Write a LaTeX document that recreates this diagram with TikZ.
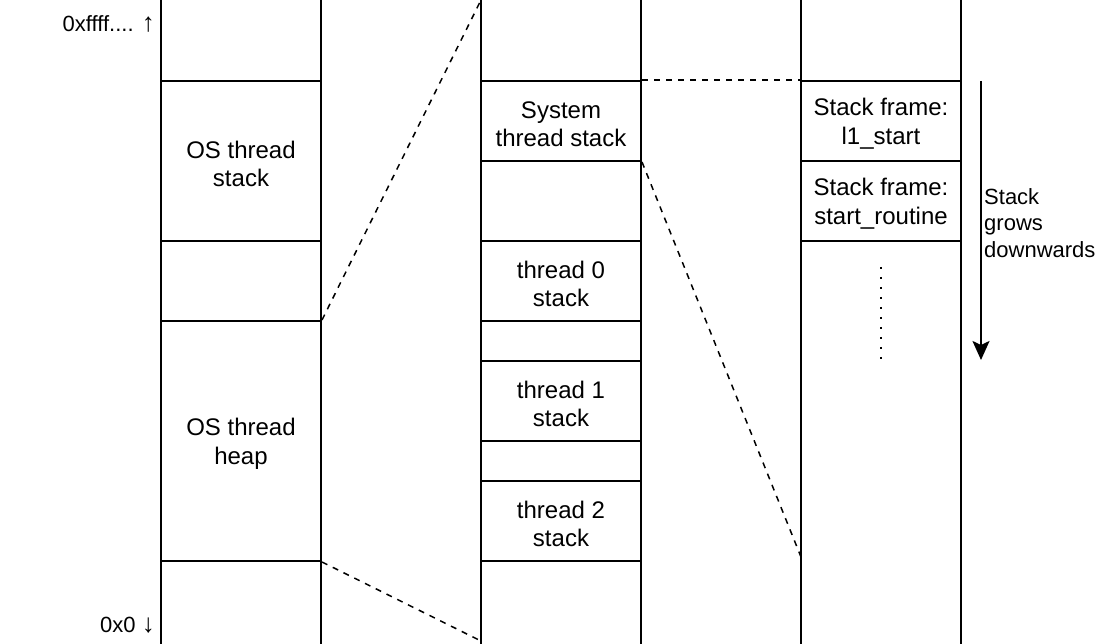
\documentclass[tikz,border=0pt]{standalone}
\usepackage{fontspec}
\setmainfont{Liberation Sans}
\usepackage{tikz}
\usetikzlibrary{arrows.meta}
\definecolor{bg}{HTML}{FFFFFF}
\definecolor{ink}{HTML}{000000}
\tikzset{
  wall/.style={draw=ink, line width=2pt},
  seg/.style={draw=ink, line width=2pt, inner sep=0pt, minimum width=160pt,
    align=center, text height=52pt, font=\fontsize{24}{28.8}\selectfont},
  link/.style={draw=ink, line width=1.5pt, dash pattern=on 6pt off 6pt},
  lab/.style={text=ink, font=\fontsize{22}{26.5}\selectfont, inner sep=0pt},
}

\begin{document}
\begin{tikzpicture}[x=1pt,y=-1pt]
  \useasboundingbox[fill=bg] (0,0) rectangle (1098,644);
  % column walls
  \foreach \x in {161,321,481,641,801,961}
    \draw[wall] (\x,0) -- (\x,644);
  % process memory
  \node[seg, minimum height=160pt] (osstack) at (241,161) {OS thread\\stack};
  \node[seg, minimum height=240pt] (osheap) at (241,441) {OS thread\\heap};
  % heap contents
  \node[seg, minimum height=80pt] (sysstack) at (561,121) {System\\thread stack};
  \node[seg, minimum height=80pt] (tstack0) at (561,281) {thread 0\\stack};
  \node[seg, minimum height=80pt] (tstack1) at (561,401) {thread 1\\stack};
  \node[seg, minimum height=80pt] (tstack2) at (561,521) {thread 2\\stack};
  % system stack frames
  \node[seg, minimum height=80pt] (frame1) at (881,121) {Stack frame:\\l1\_start};
  \node[seg, minimum height=80pt] (frame2) at (881,201) {Stack frame:\\start\_routine};
  \coordinate (heaptop) at (481,0);
  \coordinate (heapbot) at (481,641);
  \coordinate (framebot) at (801,557);
  \draw[link] (osheap.north east) -- (heaptop);
  \draw[link] (osheap.south east) -- (heapbot);
  \draw[link] (sysstack.north east) -- (frame1.north west);
  \draw[link] (sysstack.south east) -- (framebot);
  % more frames
  \draw[draw=ink, line width=2pt, dash pattern=on 2pt off 8pt] (881,267) -- (881,362);
  % growth direction
  \coordinate (growtop) at (981,81);
  \coordinate (growbot) at (981,360);
  \draw[wall, -{Stealth[length=19pt,width=17pt,inset=4pt]}] (growtop) -- (growbot);
  \node[lab, anchor=west, align=left] (growlab) at (984,223) {Stack\\grows\\downwards};
  % address labels
  \node[lab, anchor=east] (hiaddr) at (155,24) {0xffff.... {\fontsize{26}{26}\selectfont↑}};
  \node[lab, anchor=east] (loaddr) at (155,625) {0x0 {\fontsize{26}{26}\selectfont↓}};
\end{tikzpicture}
\end{document}
